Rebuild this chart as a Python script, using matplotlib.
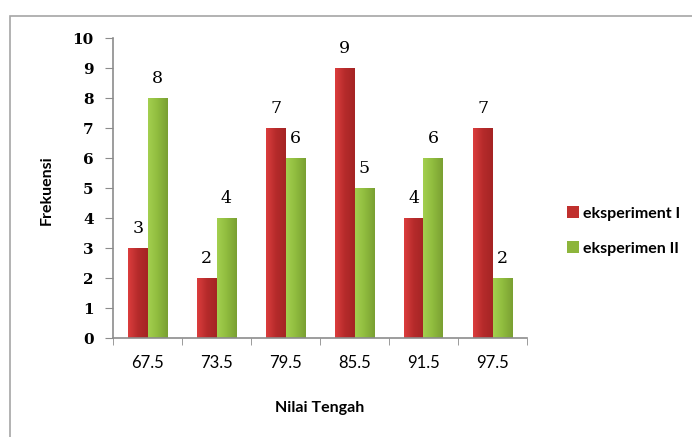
import numpy as np
import matplotlib.pyplot as plt
from matplotlib.patches import Rectangle

categories = ['67.5', '73.5', '79.5', '85.5', '91.5', '97.5']
eksp1 = [3, 2, 7, 9, 4, 7]
eksp2 = [8, 4, 6, 5, 6, 2]
series_names = ['eksperiment I', 'eksperimen II']

fig = plt.figure(figsize=(6.92, 4.37), dpi=100)
ax = fig.add_axes([113/692, 1-338/437, (527-113)/692, 300/437])

# gray frame round the chart area (cut at right/bottom like the original)
fig.patches.append(Rectangle((10/692, -0.1), 1.2, 1 - 16/437 + 0.1,
                             transform=fig.transFigure, fill=False,
                             edgecolor='#a6a6a6', lw=1.2))

x = np.arange(len(categories))
w = 0.28
red_cmap = plt.matplotlib.colors.LinearSegmentedColormap.from_list('r', ['#dc3d3d', '#b52b2b', '#a52424'])
green_cmap = plt.matplotlib.colors.LinearSegmentedColormap.from_list('g', ['#a3cf4f', '#8fbb3e', '#7aa032'])
grad = np.linspace(0, 1, 64).reshape(1, -1)

bars1 = ax.bar(x - w/2, eksp1, width=w, color='#c0302e', label=series_names[0])
bars2 = ax.bar(x + w/2, eksp2, width=w, color='#8db53c', label=series_names[1])

# excel-ish gradient fill inside each bar
for bars, cm in [(bars1, red_cmap), (bars2, green_cmap)]:
    for b in bars:
        bx, by = b.get_x(), b.get_y()
        im = ax.imshow(grad, cmap=cm, aspect='auto',
                       extent=[bx, bx + b.get_width(), by, by + b.get_height()],
                       zorder=b.get_zorder() + 0.1)
        im.set_clip_path(b)

for bars, vals in [(bars1, eksp1), (bars2, eksp2)]:
    for b, v in zip(bars, vals):
        ax.annotate(str(v), (b.get_x() + b.get_width()/2, v), xytext=(0, 14),
                    textcoords='offset points', ha='center', va='center',
                    fontsize=12.5, family='DejaVu Serif')

ax.set_xlim(-0.5, len(categories) - 0.5)
ax.set_ylim(0, 10)
ax.set_yticks(range(0, 11))
ax.set_yticklabels([str(i) for i in range(0, 11)], fontsize=11, fontweight='bold',
                   family='DejaVu Serif')
ax.set_xticks(x)
ax.set_xticklabels(categories, fontsize=12, family='Lato')
ax.set_xticks(np.arange(-0.5, len(categories)), minor=True)
ax.tick_params(axis='x', which='major', length=0, pad=12)
ax.tick_params(axis='x', which='minor', length=5, color='#8c8c8c', direction='out')
ax.tick_params(axis='y', length=6, color='#8c8c8c', pad=8)

for s in ['top', 'right']:
    ax.spines[s].set_visible(False)
for s in ['left', 'bottom']:
    ax.spines[s].set_color('#8c8c8c')
    ax.spines[s].set_linewidth(1.2)

fig.text(47/692, 1-190/437, 'Frekuensi', rotation=90, ha='center', va='center',
         fontsize=11.5, fontweight='bold', family='Lato')
fig.text(320/692, 1-408/437, 'Nilai Tengah', ha='center', va='center',
         fontsize=11.5, fontweight='bold', family='Lato')

fig.legend(handles=[bars1, bars2], labels=series_names, loc='center left',
           bbox_to_anchor=(553/692, 1-231/437), frameon=False,
           handlelength=0.7, handleheight=0.7, handletextpad=0.3,
           labelspacing=1.3, prop={'family': 'Lato', 'weight': 'bold', 'size': 11.5})

fig.savefig('out.png', dpi=100)
